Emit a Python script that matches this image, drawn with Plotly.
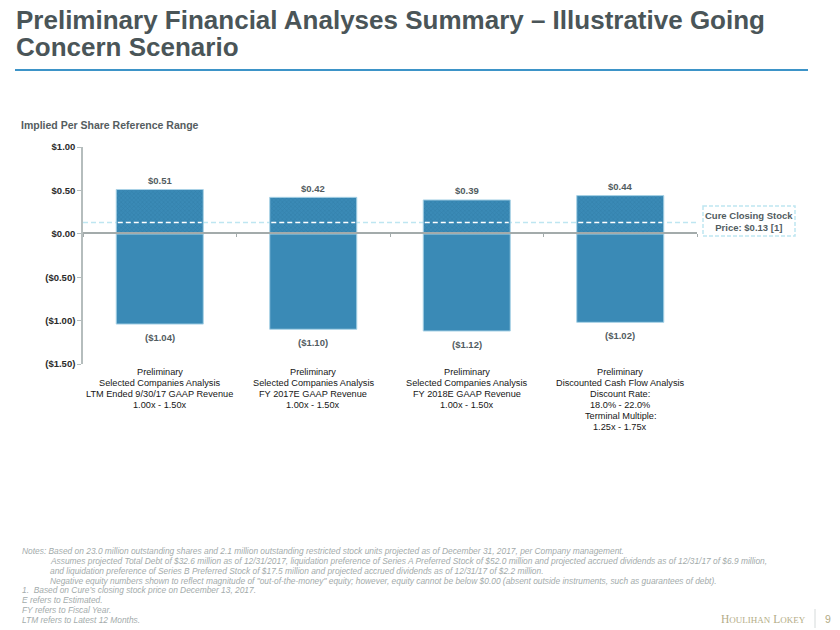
import plotly.graph_objects as go

# data
categories = ["LTM 2017 SCA", "FY 2017E SCA", "FY 2018E SCA", "DCF"]
high_vals = [0.51, 0.42, 0.39, 0.44]
low_vals = [-1.04, -1.10, -1.12, -1.02]
high_text = ["$0.51", "$0.42", "$0.39", "$0.44"]
low_text = ["($1.04)", "($1.10)", "($1.12)", "($1.02)"]
cat_labels = [
    ["Preliminary", "Selected Companies Analysis", "LTM Ended 9/30/17 GAAP Revenue", "1.00x - 1.50x"],
    ["Preliminary", "Selected Companies Analysis", "FY 2017E GAAP Revenue", "1.00x - 1.50x"],
    ["Preliminary", "Selected Companies Analysis", "FY 2018E GAAP Revenue", "1.00x - 1.50x"],
    ["Preliminary", "Discounted Cash Flow Analysis", "Discount Rate:", "18.0% - 22.0%",
     "Terminal Multiple:", "1.25x - 1.75x"],
]
closing_price = 0.13
tick_vals = [1.0, 0.5, 0.0, -0.5, -1.0, -1.5]
tick_text = ["$1.00", "$0.50", "$0.00", "($0.50)", "($1.00)", "($1.50)"]

notes = [
    (20, "Notes: Based on 23.0 million outstanding shares and 2.1 million outstanding restricted stock units projected as of December 31, 2017, per Company management."),
    (48, "Assumes projected Total Debt of $32.6 million as of 12/31/2017, liquidation preference of Series A Preferred Stock of $52.0 million and projected accrued dividends as of 12/31/17 of $6.9 million,"),
    (48, "and liquidation preference of Series B Preferred Stock of $17.5 million and projected accrued dividends as of 12/31/17 of $2.2 million."),
    (48, "Negative equity numbers shown to reflect magnitude of \"out-of-the-money\" equity; however, equity cannot be below $0.00 (absent outside instruments, such as guarantees of debt)."),
    (20, "1.  Based on Cure\u2019s closing stock price on December 13, 2017."),
    (20, "E refers to Estimated."),
    (20, "FY refers to Fiscal Year."),
    (20, "LTM refers to Latest 12 Months."),
]

FONT = "Liberation Sans, Arial, sans-serif"
BAR = "#3A8AB6"
DASH_CYAN = "#BEE6F1"

# plot area in pixels
PL, PR, PT, PB = 83, 697, 147, 364
def px(x):
    return (x - PL) / (PR - PL)
def py(y):
    return (PB - y) / (PB - PT)

BAR_W = 0.567

fig = go.Figure()
fig.add_trace(go.Bar(
    x=categories, y=low_vals, width=BAR_W,
    marker=dict(color=BAR, line=dict(color="#A8D2E6", width=1)),
    hoverinfo="skip", showlegend=False,
))
fig.add_trace(go.Bar(
    x=categories, y=high_vals, width=BAR_W,
    marker=dict(color=BAR, line=dict(color="#A8D2E6", width=1),
                pattern=dict(shape="x", size=3, solidity=0.35, fgcolor="#2C749E", bgcolor=BAR)),
    hoverinfo="skip", showlegend=False,
))

ann = []
for i, c in enumerate(categories):
    ann.append(dict(x=c, y=high_vals[i], xref="x", yref="y", text="<b>" + high_text[i] + "</b>", showarrow=False,
                    yanchor="middle", yshift=9, font=dict(family=FONT, size=9.5, color="#525C5F")))
    ann.append(dict(x=c, y=low_vals[i], xref="x", yref="y", text="<b>" + low_text[i] + "</b>", showarrow=False,
                    yanchor="middle", yshift=-13, font=dict(family=FONT, size=9.5, color="#525C5F")))
    for k, line in enumerate(cat_labels[i]):
        ann.append(dict(x=c, y=py(372 + 10.9 * k), xref="x", yref="paper", text=line, showarrow=False,
                        yanchor="middle", font=dict(family=FONT, size=9.2, color="#161616")))

# title and subtitle
ann.append(dict(x=px(14), y=py(20), xref="paper", yref="paper", xanchor="left", yanchor="middle",
                text="<b>Preliminary Financial Analyses Summary \u2013 Illustrative Going</b>", showarrow=False,
                font=dict(family=FONT, size=26, color="#4A5558")))
ann.append(dict(x=px(14), y=py(47), xref="paper", yref="paper", xanchor="left", yanchor="middle",
                text="<b>Concern Scenario</b>", showarrow=False,
                font=dict(family=FONT, size=26, color="#4A5558")))
ann.append(dict(x=px(19), y=py(125), xref="paper", yref="paper", xanchor="left", yanchor="middle",
                text="<b>Implied Per Share Reference Range</b>", showarrow=False,
                font=dict(family=FONT, size=10.5, color="#555D60")))

# closing price callout
ann.append(dict(x=px(749), y=py(221.5), xref="paper", yref="paper", xanchor="center", yanchor="middle",
                text="<b>Cure Closing Stock<br>Price: $0.13 [1]</b>", showarrow=False,
                font=dict(family=FONT, size=9.5, color="#525C5F")))

# notes
for k, (x0, line) in enumerate(notes):
    ann.append(dict(x=px(x0), y=py(551 + 9.85 * k), xref="paper", yref="paper", xanchor="left",
                    yanchor="middle", text=line, showarrow=False,
                    font=dict(family=FONT, size=8.4, color="#A3ABAB", style="italic")))

# footer logo
ann.append(dict(x=px(808), y=py(619), xref="paper", yref="paper", xanchor="right", yanchor="middle",
                text="H<span style='font-size:9px'>OULIHAN</span> L<span style='font-size:9px'>OKEY</span>",
                showarrow=False, font=dict(family="Liberation Serif, serif", size=11.5, color="#B3AC86")))
ann.append(dict(x=px(828), y=py(619), xref="paper", yref="paper", xanchor="center", yanchor="middle",
                text="9", showarrow=False, font=dict(family=FONT, size=10.5, color="#B3AC86")))

shapes = [
    # rule under title
    dict(type="line", xref="paper", yref="paper", x0=px(15), x1=px(808), y0=py(70), y1=py(70),
         line=dict(color="#3D94C8", width=2)),
    # closing price across the plot
    dict(type="line", xref="paper", yref="y", x0=0, x1=1, y0=closing_price, y1=closing_price,
         line=dict(color=DASH_CYAN, width=1.5, dash="5px,3px"), layer="below"),
    # callout box
    dict(type="rect", xref="paper", yref="paper", x0=px(703), x1=px(795), y0=py(206), y1=py(236),
         line=dict(color=DASH_CYAN, width=1.5, dash="4px,2px")),
    # footer divider
    dict(type="line", xref="paper", yref="paper", x0=px(815), x1=px(815), y0=py(609), y1=py(628),
         line=dict(color="#D5DADA", width=1)),
]
for i in range(len(categories)):
    shapes.append(dict(type="line", xref="x", yref="y", x0=i - BAR_W / 2 + 0.01, x1=i + BAR_W / 2 - 0.01,
                       y0=closing_price, y1=closing_price,
                       line=dict(color="white", width=1.5, dash="5px,3px")))

fig.update_layout(
    width=840, height=630,
    margin=dict(l=PL, r=840 - PR, t=PT, b=630 - PB),
    paper_bgcolor="white", plot_bgcolor="white",
    barmode="relative",
    annotations=ann, shapes=shapes,
    xaxis=dict(anchor="free", position=py(233), showline=True, linecolor="#A3ABAB", linewidth=2,
               ticks="outside", tickson="boundaries", ticklen=3, tickcolor="#A3ABAB",
               showticklabels=False, showgrid=False, zeroline=False, fixedrange=True),
    yaxis=dict(range=[-1.5, 1.0], tickvals=tick_vals, ticktext=tick_text, showline=True,
               linecolor="#B5BDBD", linewidth=1.5, ticks="outside", ticklen=4, tickcolor="#B5BDBD",
               showgrid=False, zeroline=False,
               tickfont=dict(family=FONT, size=9.5, color="#2A2A2A", weight="bold"), fixedrange=True),
    font=dict(family=FONT),
)

# the page has a default body margin; remove it so the figure sits at the top-left corner
fig.write_html("out.html", config={"displayModeBar": False},
               post_script="document.body.style.margin='0';")
